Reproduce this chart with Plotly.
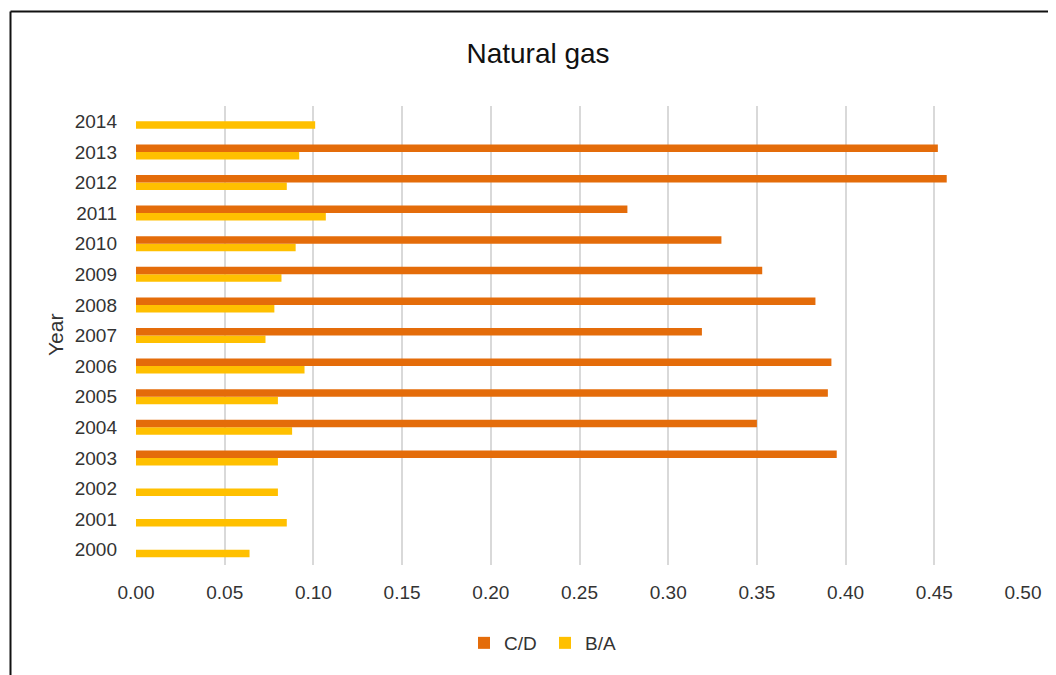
import plotly.graph_objects as go

years = [2000, 2001, 2002, 2003, 2004, 2005, 2006, 2007, 2008, 2009, 2010, 2011, 2012, 2013, 2014]
cd_values = [None, None, None, 0.395, 0.350, 0.390, 0.392, 0.319, 0.383, 0.353, 0.330, 0.277, 0.457, 0.452, None]
ba_values = [0.064, 0.085, 0.080, 0.080, 0.088, 0.080, 0.095, 0.073, 0.078, 0.082, 0.090, 0.107, 0.085, 0.092, 0.101]
x_ticks = [0.0, 0.05, 0.10, 0.15, 0.20, 0.25, 0.30, 0.35, 0.40, 0.45, 0.50]
x_ticklabels = ["0.00", "0.05", "0.10", "0.15", "0.20", "0.25", "0.30", "0.35", "0.40", "0.45", "0.50"]

OFF = 8  # default page body margin
VW, VH = 1056, 675
W, H = VW - OFF, VH - OFF
# plot area in viewport pixels
PL, PR, PT, PB = 136, 1023, 106, 565
L, R, T, B = PL - OFF, W - (PR - OFF), PT - OFF, H - (PB - OFF)
pw, ph = W - L - R, H - T - B

FONT = "Liberation Sans, Arial, sans-serif"
TXT = "#333333"

fig = go.Figure()
fig.add_trace(go.Bar(
    y=years, x=ba_values, orientation="h", name="B/A",
    marker=dict(color="#FFC000", line=dict(width=0)), legendrank=2,
))
fig.add_trace(go.Bar(
    y=years, x=cd_values, orientation="h", name="C/D",
    marker=dict(color="#E46C0A", line=dict(width=0)), legendrank=1,
))

def px_x(px):
    return (px - PL) / pw

def px_y(py):
    return (PB - py) / ph

fig.update_layout(
    width=W, height=H,
    margin=dict(l=L, r=R, t=T, b=B, pad=0),
    paper_bgcolor="white", plot_bgcolor="white",
    barmode="group", bargap=0.51, bargroupgap=0,
    font=dict(family=FONT, size=19, color=TXT),
    title=dict(text="Natural gas", x=(538 - OFF) / W, xanchor="center", xref="container",
               y=1 - (53 - OFF) / H, yanchor="middle", yref="container",
               font=dict(family=FONT, size=28, color="#111111")),
    showlegend=True,
    legend=dict(orientation="h", x=px_x(545), xanchor="center", y=px_y(643), yanchor="middle",
                font=dict(family=FONT, size=19, color=TXT), itemwidth=30,
                entrywidth=36, entrywidthmode="pixels",
                traceorder="normal", bgcolor="rgba(0,0,0,0)"),
    xaxis=dict(range=[0, 0.5], tickvals=x_ticks, ticktext=x_ticklabels,
               showgrid=True, gridcolor="#D9D9D9", gridwidth=1.5,
               zeroline=False, showline=False, ticks="", ticklabelstandoff=14,
               tickfont=dict(family=FONT, size=19, color=TXT), fixedrange=True),
    yaxis=dict(range=[1999.5, 2014.5], tickmode="array", tickvals=years,
               ticktext=[str(y) for y in years], showgrid=False, zeroline=False,
               showline=False, ticks="", ticklabelstandoff=18,
               tickfont=dict(family=FONT, size=19, color=TXT), fixedrange=True),
)

fig.add_annotation(text="Year", textangle=-90, xref="paper", yref="paper",
                   x=px_x(55), y=px_y(335), xanchor="center", yanchor="middle",
                   showarrow=False, font=dict(family=FONT, size=21, color=TXT))

# chart border (left and top visible)
fig.add_shape(type="line", xref="paper", yref="paper",
              x0=px_x(10.5), x1=px_x(10.5), y0=px_y(11.5), y1=px_y(700),
              line=dict(color="#111111", width=2))
fig.add_shape(type="line", xref="paper", yref="paper",
              x0=px_x(10.5), x1=px_x(1100), y0=px_y(11.5), y1=px_y(11.5),
              line=dict(color="#111111", width=2))

fig.write_html("out.html")
